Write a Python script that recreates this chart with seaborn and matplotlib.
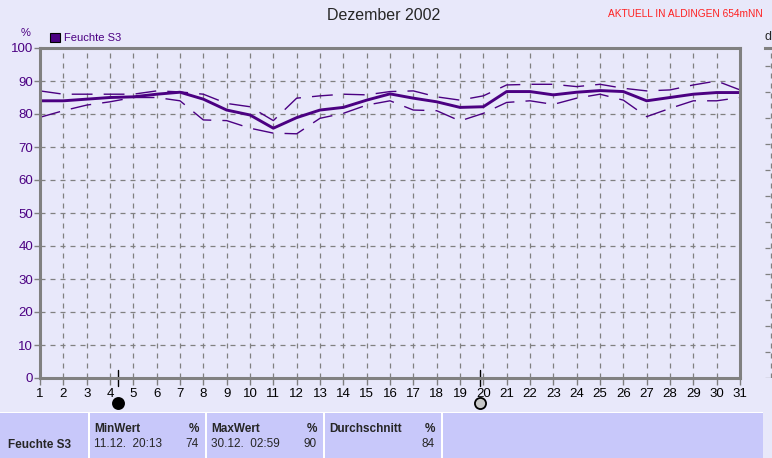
import numpy as np
import pandas as pd
import matplotlib
matplotlib.use("Agg")
import matplotlib.pyplot as plt
import seaborn as sns
from matplotlib.patches import Rectangle

# ----------------------------
# Data
# ----------------------------

days = list(range(1, 32))
mean_vals = [84, 84, 84.5, 85, 85.2, 86, 86.6, 84.5, 81.2, 79.7, 75.7,
             78.9, 81.2, 82, 84.2, 86.1, 84.8, 83.7, 82, 82.2, 86.8,
             86.8, 85.8, 86.6, 87.1, 86.8, 84, 85, 86, 86.5, 86.5]
max_vals = [87, 86, 86, 86, 86, 87, 86.7, 86, 83.2, 82.2, 78,
            84.8, 85.5, 86, 85.8, 86.8, 87, 85.2, 84.2, 85.5, 88.8,
            89, 89, 88.3, 89, 87.8, 87, 87.3, 88.8, 90, 87.3]
min_vals = [79, 81, 82.7, 83.7, 85, 85, 84, 78.2, 78, 75.7, 74.2,
            74, 78.7, 80.2, 82.7, 84, 81.2, 81, 77.9, 80.2, 83.5,
            84, 82.9, 84.8, 86, 84.2, 79.2, 81.7, 84, 84, 85]
moon_days = [4.35, 19.85]
moon_colors = ["black", "#c8c8c8"]

y_ticks = list(range(0, 101, 10))
title = "Dezember 2002"
series_name = "Feuchte S3"
stat_heads = ["MinWert", "MaxWert", "Durchschnitt"]
stat_dates = ["11.12.  20:13", "30.12.  02:59", ""]
stat_values = ["74", "90", "84"]

df = pd.DataFrame({"day": days, "mean": mean_vals, "max": max_vals, "min": min_vals})

# ----------------------------
# Style
# ----------------------------

BG = "#e8e8fa"
LINE = "#4b0082"
GRID = "#808080"
TABLE = "#c8c8fa"

sns.set_style("white")
plt.rcParams["font.family"] = ["Liberation Sans", "DejaVu Sans"]

W, H = 772, 458
fig = plt.figure(figsize=(W / 100, H / 100), dpi=100, facecolor=BG)

def px(x0, y0, w, h):
    return [x0 / W, 1 - (y0 + h) / H, w / W, h / H]

ax = fig.add_axes(px(40, 48, 700, 330))
ax.set_facecolor(BG)

sns.lineplot(data=df, x="day", y="mean", ax=ax, color=LINE, lw=2.1)
sns.lineplot(data=df, x="day", y="max", ax=ax, color=LINE, lw=1.0)
sns.lineplot(data=df, x="day", y="min", ax=ax, color=LINE, lw=1.0)
for ln in ax.lines[1:]:
    ln.set_dashes([15, 8])

ax.set_xlim(1, 31)
ax.set_ylim(0, 100)
ax.set_xticks(days)
ax.set_yticks(y_ticks)
ax.set_xlabel("")
ax.set_ylabel("")
ax.grid(True, color=GRID, ls=(0, (4, 4)), lw=0.9)
for s in ax.spines.values():
    s.set_color(GRID)
    s.set_linewidth(2.2)
ax.tick_params(axis="y", colors=GRID, labelcolor=LINE, labelsize=9.5,
               length=4, width=1, left=True, pad=1)
ax.tick_params(axis="x", colors=GRID, labelcolor="black", labelsize=9.5,
               length=5, width=1, bottom=True, pad=2)

# moon phase marks
for d, c in zip(moon_days, moon_colors):
    ax.plot([d, d], [-2.5, 2.5], color="black", lw=1, clip_on=False)
    ax.plot(d, -7.5, "o", ms=8, color=c, mec="black", mew=1.3, clip_on=False)

# ----------------------------
# Texts
# ----------------------------

fig.text(384 / W, 1 - 15 / H, title, ha="center", va="center", fontsize=11.5)
fig.text(763 / W, 1 - 14 / H, "AKTUELL IN ALDINGEN 654mNN", ha="right",
         va="center", fontsize=7.3, color="#ff2020")
fig.text(26 / W, 1 - 33 / H, "%", ha="center", va="center", fontsize=8,
         color=LINE)
fig.patches.append(Rectangle((50 / W, 1 - 42 / H), 10 / W, 9 / H,
                             transform=fig.transFigure, fc=LINE, ec="black",
                             lw=0.8))
fig.text(64 / W, 1 - 38 / H, series_name, ha="left", va="center",
         fontsize=8, color=LINE)

# partial neighbour chart on the right
ax2 = fig.add_axes(px(765, 48, 60, 330))
ax2.set_facecolor(BG)
ax2.set_xlim(0, 1)
ax2.set_ylim(0, 100)
ax2.set_xticks([0.1])
ax2.set_yticks(np.arange(0, 101, 100 * 26 / 330))
ax2.grid(True, color=GRID, ls=(0, (4, 4)), lw=0.9)
ax2.tick_params(labelleft=False, labelbottom=False, length=0)
for s in ax2.spines.values():
    s.set_visible(False)
ax2.spines["top"].set_visible(True)
ax2.spines["top"].set_color(GRID)
ax2.spines["top"].set_linewidth(2.2)
fig.text(768 / W, 1 - 37 / H, "d", ha="center", va="center", fontsize=9)

# ----------------------------
# Statistics table
# ----------------------------

fig.patches.append(Rectangle((0, 0), 763 / W, 45 / H,
                             transform=fig.transFigure, fc=TABLE, ec="none"))
fig.patches.append(Rectangle((0, 45 / H), 763 / W, 1.5 / H,
                             transform=fig.transFigure, fc="white", ec="none"))
col_x = [88, 205, 323, 441]
for cx in col_x:
    fig.patches.append(Rectangle((cx / W, 0), 1.5 / W, 45 / H,
                                 transform=fig.transFigure, fc="white",
                                 ec="none"))
fig.text(8 / W, 1 - 445 / H, series_name, ha="left", va="center",
         fontsize=8.5, weight="bold")
for i in range(3):
    x0 = col_x[i] + 6
    x1 = col_x[i + 1] - 6
    fig.text(x0 / W, 1 - 429 / H, stat_heads[i], ha="left", va="center",
             fontsize=8.5, weight="bold")
    fig.text(x1 / W, 1 - 429 / H, "%", ha="right", va="center",
             fontsize=8.5, weight="bold")
    fig.text(x0 / W, 1 - 444 / H, stat_dates[i], ha="left", va="center",
             fontsize=8.5)
    fig.text(x1 / W, 1 - 444 / H, stat_values[i], ha="right", va="center",
             fontsize=8.5)

fig.savefig("out.png", dpi=100, facecolor=BG)
